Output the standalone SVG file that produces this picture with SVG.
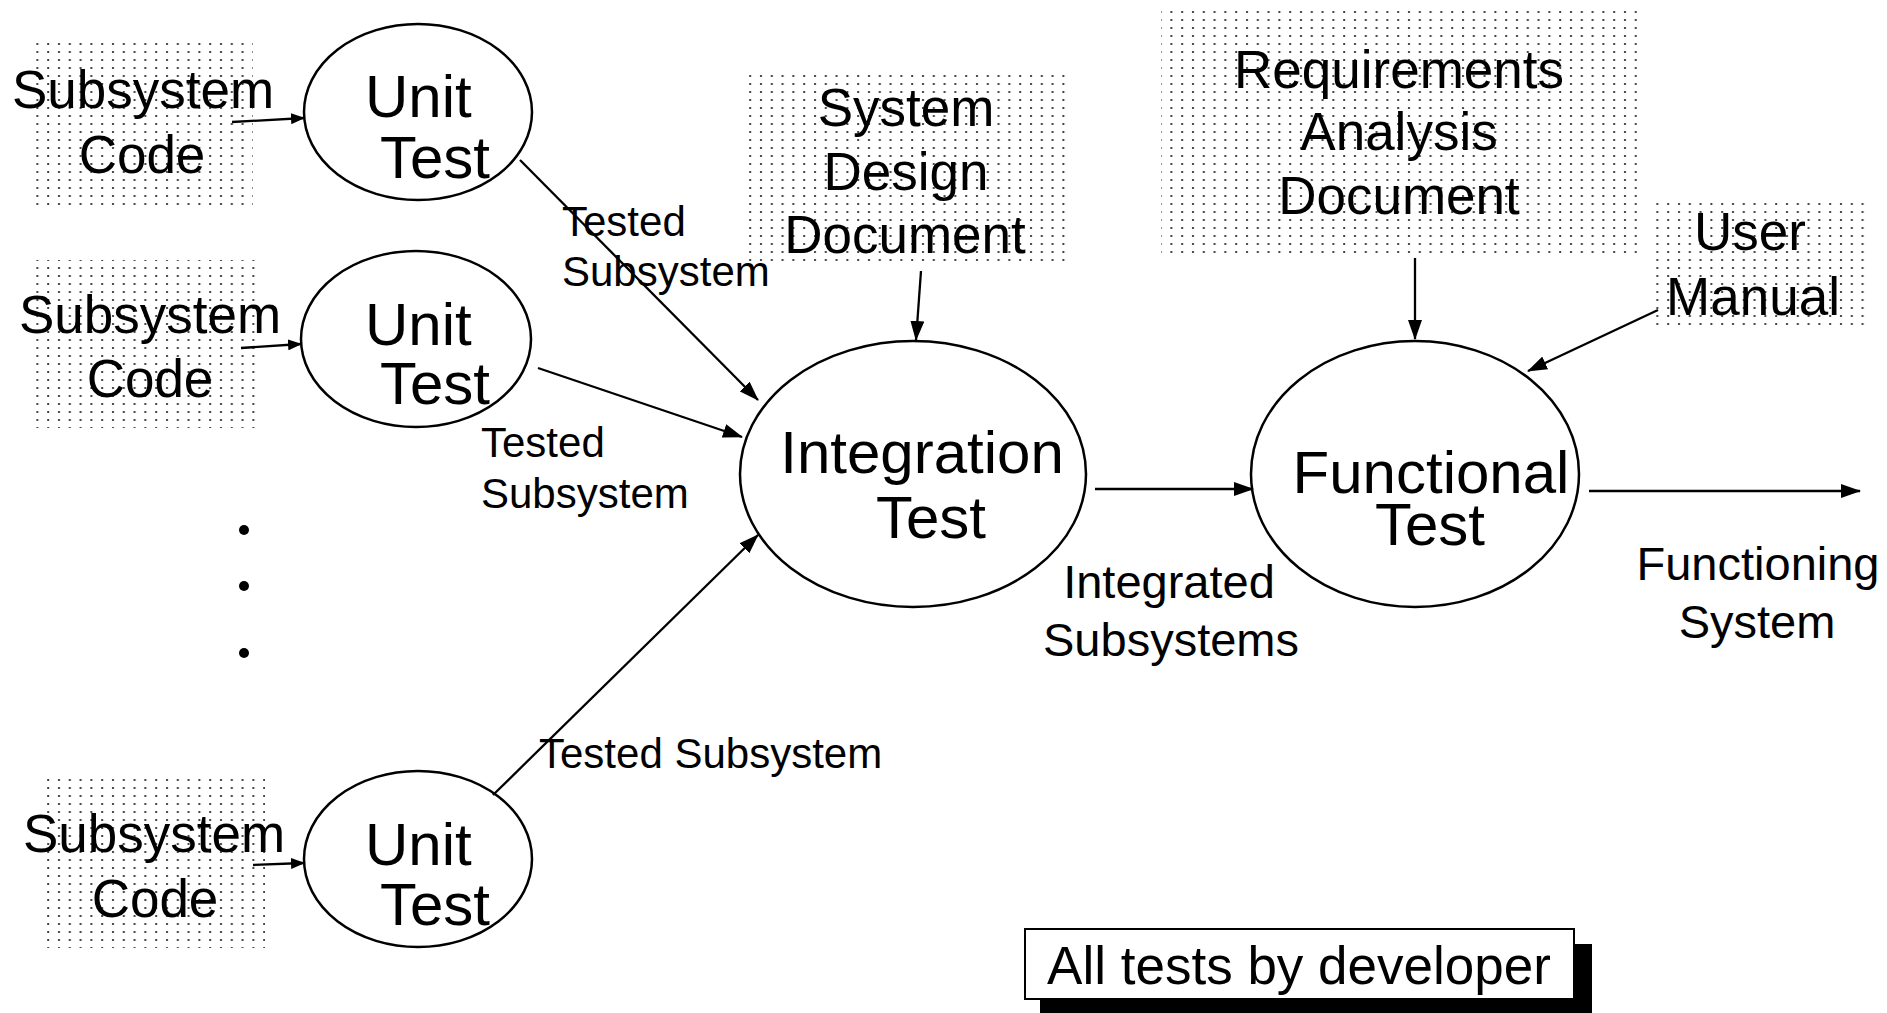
<svg xmlns="http://www.w3.org/2000/svg" width="1887" height="1013" viewBox="0 0 1887 1013">
<style>
text{font-family:"Liberation Sans",Arial,sans-serif;fill:#000}
.big{font-size:60px}
.doc{font-size:53px;text-anchor:middle}
.lbl{font-size:42px}
.lbl2{font-size:47px;text-anchor:middle}
.ell{fill:#fff;stroke:#000;stroke-width:2.5}
.ln{stroke:#000;stroke-width:2.3;fill:none;marker-end:url(#ah)}
.sm{stroke:#000;stroke-width:2.3;fill:none;marker-end:url(#ahs)}
.dots{fill:url(#dotpat)}
</style>
<defs>
<pattern id="dotpat" patternUnits="userSpaceOnUse" width="10.8" height="8">
<rect x="4" y="3" width="2" height="2" fill="#444"/>
</pattern>
<marker id="ah" viewBox="0 0 20 14" refX="19" refY="7" markerWidth="20" markerHeight="14" markerUnits="userSpaceOnUse" orient="auto">
<path d="M0,0 L20,7 L0,14 z" fill="#000"/>
</marker>
<marker id="ahs" viewBox="0 0 14 11" refX="13" refY="5.5" markerWidth="14" markerHeight="11" markerUnits="userSpaceOnUse" orient="auto">
<path d="M0,0 L14,5.5 L0,11 z" fill="#000"/>
</marker>
</defs>
<rect width="1887" height="1013" fill="#fff"/>

<g id="code1">
<rect class="dots" x="34" y="39" width="219" height="166"/>
<text class="doc" x="143" y="108">Subsystem</text>
<text class="doc" x="142" y="173">Code</text>
</g>
<g id="code2">
<rect class="dots" x="34" y="260" width="228" height="168"/>
<text class="doc" x="150" y="333">Subsystem</text>
<text class="doc" x="150" y="397">Code</text>
</g>
<g id="code3">
<rect class="dots" x="42" y="779" width="223" height="169"/>
<text class="doc" x="154" y="852">Subsystem</text>
<text class="doc" x="155" y="917">Code</text>
</g>

<g id="unit1">
<ellipse class="ell" cx="418" cy="112" rx="114" ry="88"/>
<text class="big" x="365" y="117">Unit</text>
<text class="big" x="380" y="178">Test</text>
</g>
<g id="unit2">
<ellipse class="ell" cx="416" cy="339" rx="115" ry="88"/>
<text class="big" x="365" y="345">Unit</text>
<text class="big" x="380" y="404">Test</text>
</g>
<g id="unit3">
<ellipse class="ell" cx="418" cy="859" rx="114" ry="88"/>
<text class="big" x="365" y="865">Unit</text>
<text class="big" x="380" y="925">Test</text>
</g>

<g id="ellipsis">
<circle cx="244" cy="530" r="5"/>
<circle cx="244" cy="586" r="5"/>
<circle cx="244" cy="653" r="5"/>
</g>

<g id="sdd">
<rect class="dots" x="742" y="72" width="325" height="195"/>
<text class="doc" x="906" y="126">System</text>
<text class="doc" x="906" y="190">Design</text>
<text class="doc" x="905" y="253">Document</text>
</g>

<g id="rad">
<rect class="dots" x="1161" y="7" width="476" height="251"/>
<text class="doc" x="1399" y="88">Requirements</text>
<text class="doc" x="1399" y="150">Analysis</text>
<text class="doc" x="1399" y="214">Document</text>
</g>

<g id="manual">
<rect class="dots" x="1649" y="202" width="216" height="123"/>
<text class="doc" x="1750" y="250">User</text>
<text class="doc" x="1753" y="315">Manual</text>
</g>

<g id="integration">
<ellipse class="ell" cx="913" cy="474" rx="173" ry="133"/>
<text class="big" x="922" y="473" text-anchor="middle">Integration</text>
<text class="big" x="931" y="538" text-anchor="middle">Test</text>
</g>

<g id="functional">
<ellipse class="ell" cx="1415" cy="474" rx="164" ry="133"/>
<text class="big" x="1431" y="493" text-anchor="middle">Functional</text>
<text class="big" x="1430" y="545" text-anchor="middle">Test</text>
</g>

<g id="connectors">
<line class="sm" x1="232" y1="122" x2="304" y2="118"/>
<line class="sm" x1="241" y1="348" x2="301" y2="344"/>
<line class="sm" x1="253" y1="865" x2="304" y2="863"/>
<line class="ln" x1="520" y1="160" x2="758" y2="400"/>
<line class="ln" x1="538" y1="368" x2="742" y2="437"/>
<line class="ln" x1="493" y1="795" x2="758" y2="535"/>
<line class="ln" x1="921" y1="271" x2="916" y2="340"/>
<line class="ln" x1="1415" y1="258" x2="1415" y2="339"/>
<line class="ln" x1="1658" y1="310" x2="1528" y2="371"/>
<line class="ln" x1="1095" y1="489" x2="1253" y2="489"/>
<line class="ln" x1="1589" y1="491" x2="1860" y2="491"/>
<text class="lbl" x="562" y="236">Tested</text>
<text class="lbl" x="562" y="286">Subsystem</text>
<text class="lbl" x="481" y="457">Tested</text>
<text class="lbl" x="481" y="508">Subsystem</text>
<text class="lbl" x="539" y="768">Tested Subsystem</text>
<text class="lbl2" x="1169" y="598">Integrated</text>
<text class="lbl2" x="1171" y="656">Subsystems</text>
<text class="lbl2" x="1758" y="580">Functioning</text>
<text class="lbl2" x="1757" y="638">System</text>
</g>

<g id="note">
<rect x="1040" y="944" width="552" height="69" fill="#000"/>
<rect x="1025" y="929" width="549" height="70" fill="#fff" stroke="#000" stroke-width="2"/>
<text x="1299" y="984" font-size="53" text-anchor="middle">All tests by developer</text>
</g>
</svg>
